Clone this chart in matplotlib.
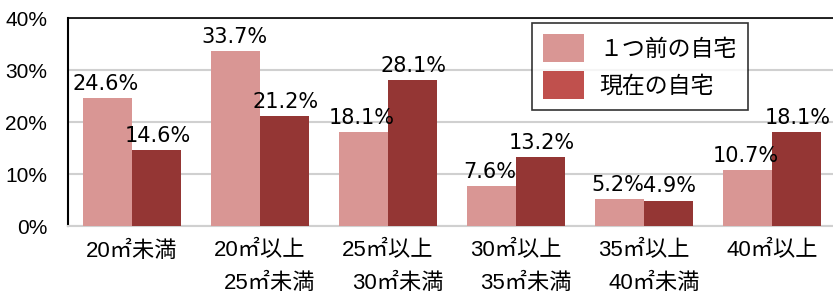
import matplotlib
matplotlib.use("Agg")
import matplotlib.pyplot as plt
from matplotlib.patches import Patch
import numpy as np

plt.rcParams['font.family'] = ['DejaVu Sans', 'Noto Sans CJK JP']
FAM_VAL = ['DejaVu Sans', 'Noto Sans CJK JP']
FAM_LAB = ['Liberation Sans', 'Noto Sans CJK JP']

categories = ["20㎡未満", "20㎡以上\n25㎡未満", "25㎡以上\n30㎡未満",
              "30㎡以上\n35㎡未満", "35㎡以上\n40㎡未満", "40㎡以上"]
prev_home = [24.6, 33.7, 18.1, 7.6, 5.2, 10.7]
current_home = [14.6, 21.2, 28.1, 13.2, 4.9, 18.1]
series_names = ["１つ前の自宅", "現在の自宅"]
yticks = [0, 10, 20, 30, 40]

c_prev = "#D99694"
c_cur = "#943634"
c_cur_legend = "#C0504D"

W, H = 833, 298
fig = plt.figure(figsize=(W / 100, H / 100), dpi=100)
left, right, top, bottom = 68, 833, 18, 226
ax = fig.add_axes([left / W, (H - bottom) / H, (right - left) / W, (bottom - top) / H])

x = np.arange(len(categories))
bw = 49 / 128
ax.bar(x - bw / 2, prev_home, width=bw, color=c_prev, zorder=3)
ax.bar(x + bw / 2, current_home, width=bw, color=c_cur, zorder=3)

fs = 15
for xi, v in zip(x, prev_home):
    ax.annotate(f"{v}%", (xi - bw / 2, v), xytext=(-1, 3), textcoords="offset points",
                ha="center", va="bottom", fontsize=fs, family=FAM_VAL, zorder=5)
for xi, v in zip(x, current_home):
    ax.annotate(f"{v}%", (xi + bw / 2, v), xytext=(1, 3), textcoords="offset points",
                ha="center", va="bottom", fontsize=fs, family=FAM_VAL, zorder=5)

ax.set_xlim(-0.5, 5.5 - 3 / 128)
ax.set_ylim(0, 40)
ax.set_yticks(yticks)
ax.set_yticklabels([f"{t}%" for t in yticks], fontsize=15, family=FAM_LAB)
ax.yaxis.grid(True, color="#D0D0D0", linewidth=1.5, zorder=0)
ax.set_axisbelow(True)

ax.set_xticks(x)
ax.set_xticklabels([])
ax.tick_params(axis="both", length=0)
ax.tick_params(axis="y", pad=15)
for xi, lab in zip(x, categories):
    lines = lab.split("\n")
    ax.text(xi, -4.8, lines[0], ha="center", va="center", fontsize=16, family=FAM_LAB,
            transform=ax.transData, clip_on=False)
    if len(lines) > 1:
        ax.text(xi + 10 / 128, -11.0, lines[1], ha="center", va="center", fontsize=16,
                family=FAM_LAB, transform=ax.transData, clip_on=False)

ax.spines["right"].set_visible(False)
ax.spines["left"].set_color("black")
ax.spines["left"].set_linewidth(1.5)
ax.spines["top"].set_color("black")
ax.spines["top"].set_linewidth(1.2)
ax.spines["bottom"].set_color("#D0D0D0")
ax.spines["bottom"].set_linewidth(1.5)

handles = [Patch(facecolor=c_prev, edgecolor="none"),
           Patch(facecolor=c_cur_legend, edgecolor="none")]
leg = ax.legend(handles, series_names, loc="upper left",
                bbox_to_anchor=((532 - left) / (right - left), 1 - (23 - top) / (bottom - top)),
                prop={'family': FAM_LAB, 'size': 16.5}, frameon=True, fancybox=False,
                edgecolor="black", handlelength=1.75, handleheight=1.45, handletextpad=0.7,
                borderpad=0.5, labelspacing=0.42, borderaxespad=0)
leg.get_frame().set_linewidth(1.2)
leg.set_zorder(6)

fig.savefig("out.png", dpi=100)
